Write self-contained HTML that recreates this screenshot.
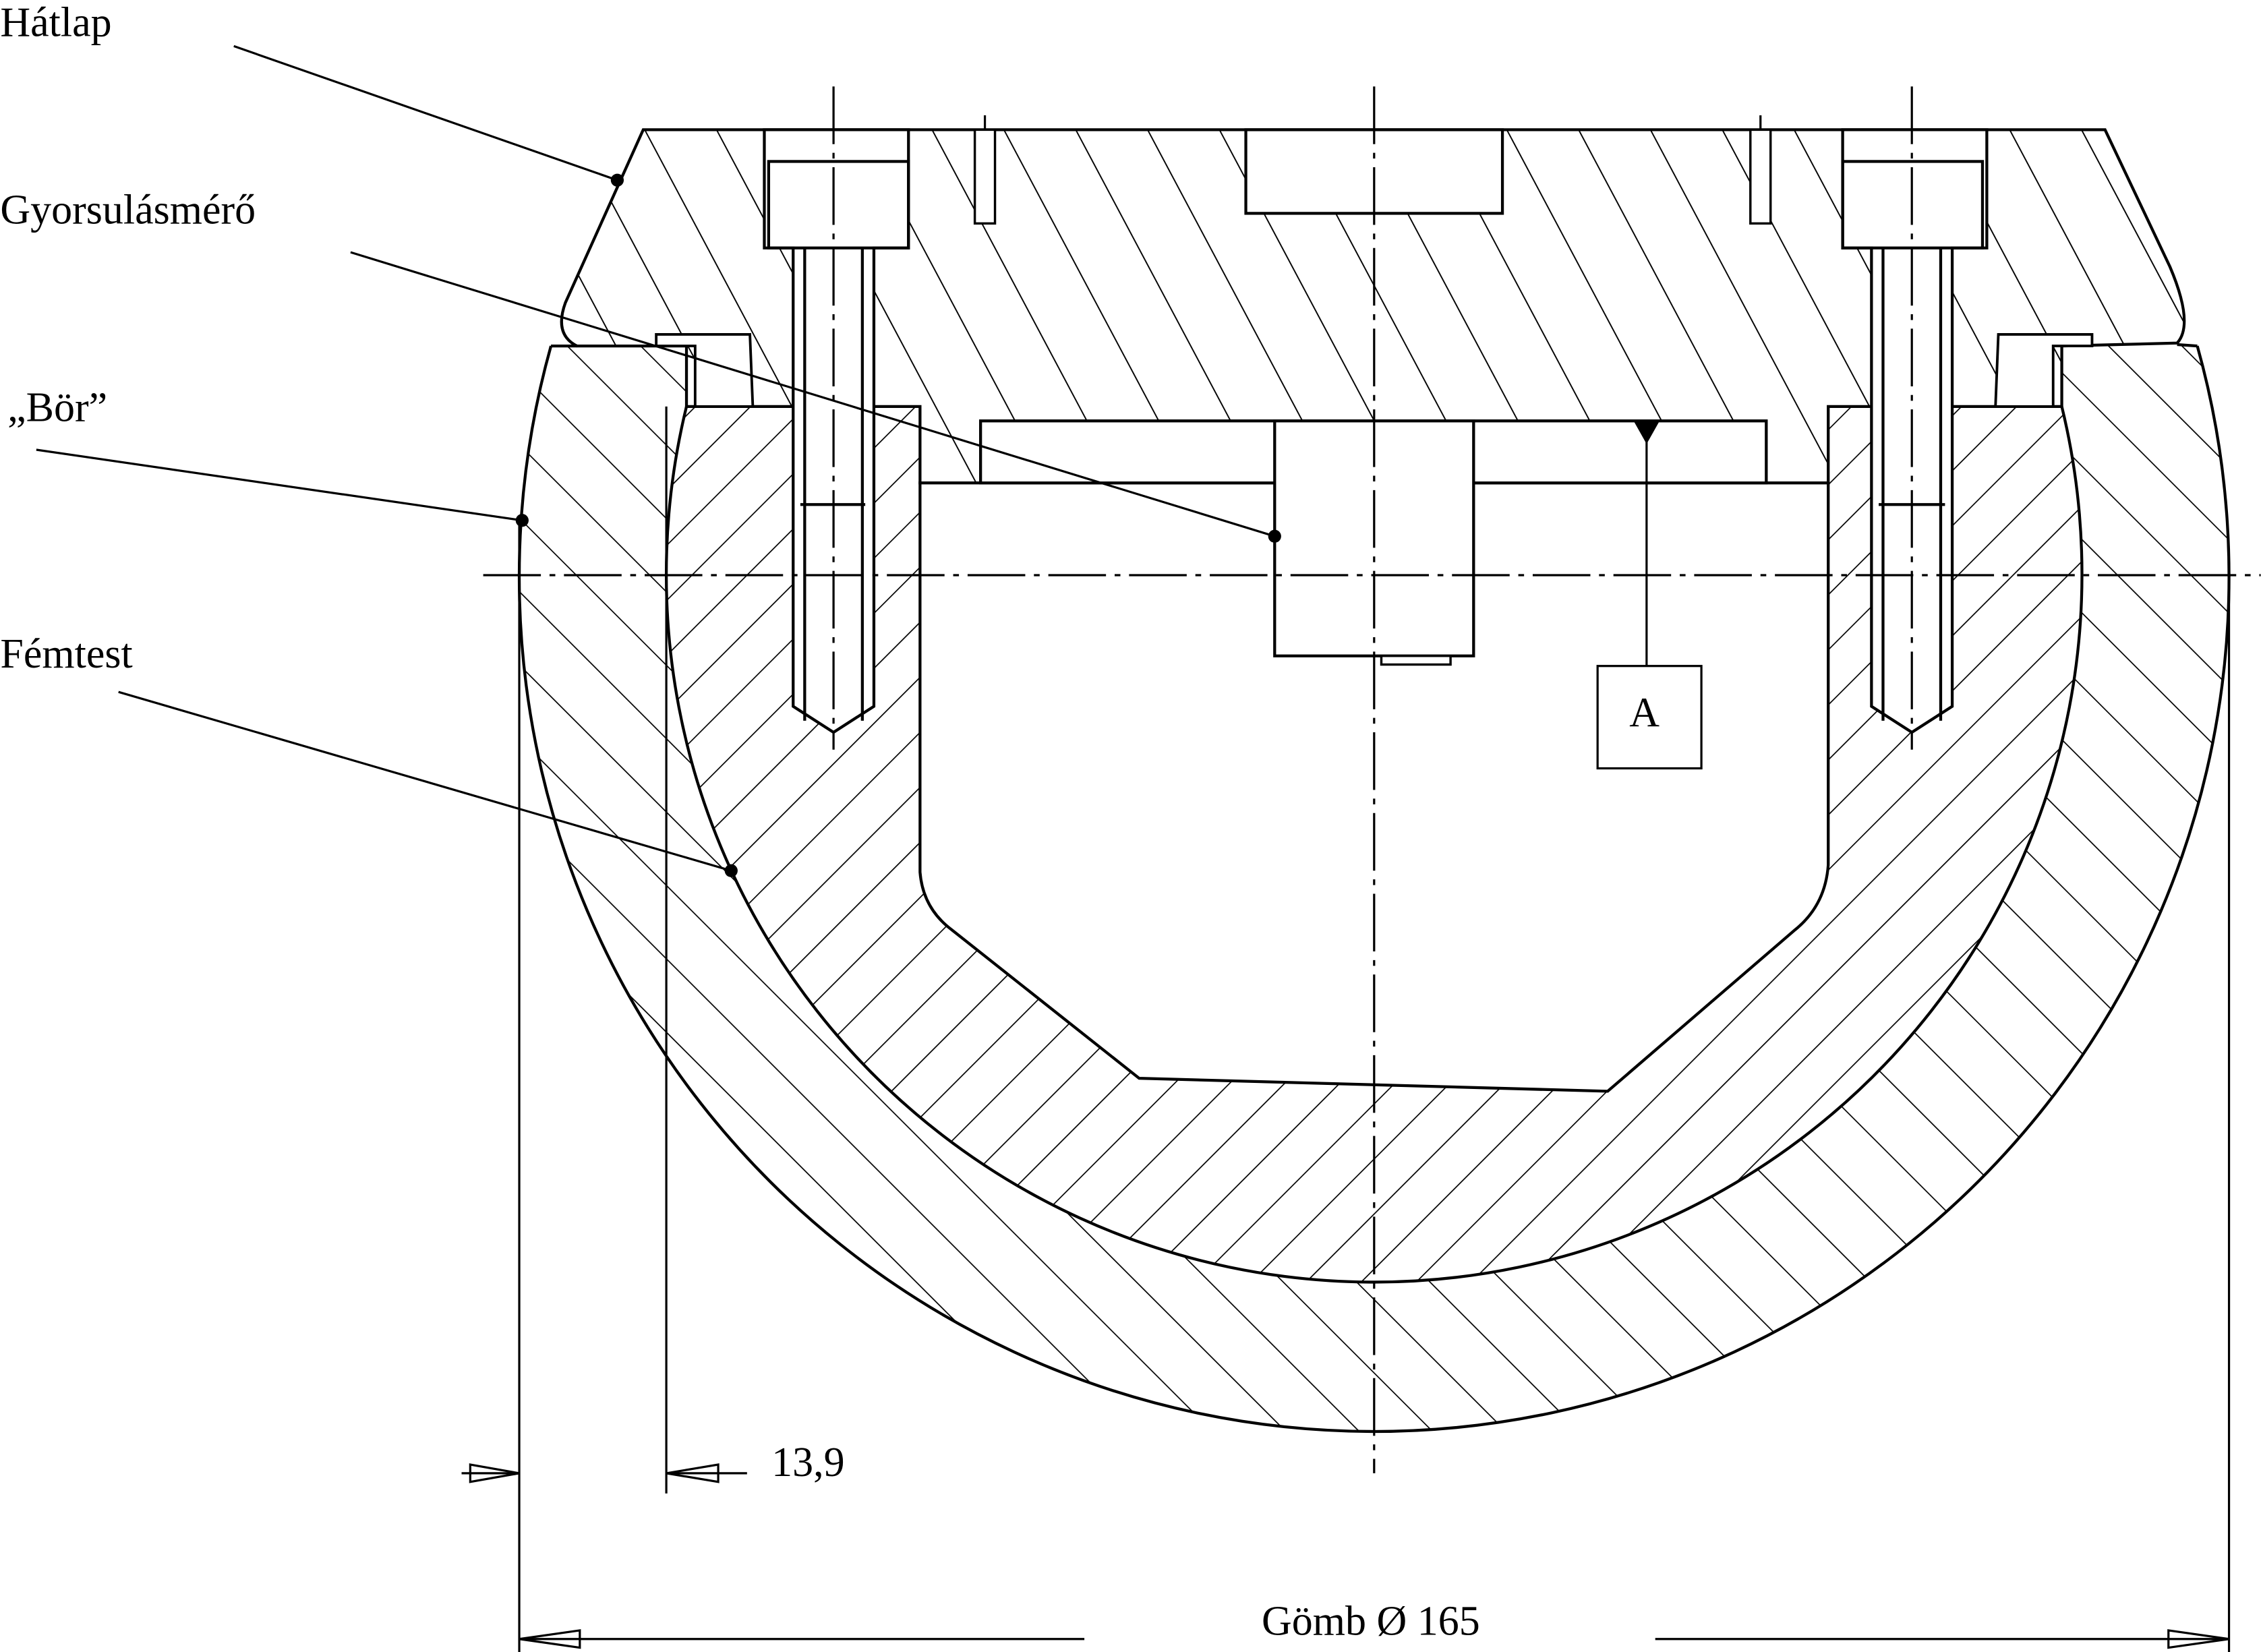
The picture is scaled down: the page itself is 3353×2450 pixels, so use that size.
<!DOCTYPE html>
<html><head><meta charset="utf-8"><style>
html,body{margin:0;padding:0;background:#fff;}
svg{display:block;}
text{font-family:"Liberation Serif",serif;fill:#000;}
</style></head><body>
<svg width="3353" height="2450" viewBox="0 0 1568 1146" xmlns="http://www.w3.org/2000/svg">
<defs>
<pattern id="hA" patternUnits="userSpaceOnUse" width="44" height="44" patternTransform="rotate(-28)">
<line x1="0" y1="0" x2="0" y2="44" stroke="#000" stroke-width="1.8"/></pattern>
<pattern id="hM" patternUnits="userSpaceOnUse" width="27" height="27" patternTransform="rotate(45)">
<line x1="0" y1="0" x2="0" y2="27" stroke="#000" stroke-width="1.6"/></pattern>
<pattern id="hS" patternUnits="userSpaceOnUse" width="36" height="36" patternTransform="rotate(-45)">
<line x1="0" y1="0" x2="0" y2="36" stroke="#000" stroke-width="1.6"/></pattern>
</defs>
<g fill="none" stroke="#000" stroke-width="2">
<path d="M382,240 A593,593 0 1 0 1524,240 Z M476,282 A491,491 0 1 0 1430,282 Z" fill="url(#hS)" fill-rule="evenodd" stroke="none"/>
<path d="M382,240 A593,593 0 1 0 1524,240"/>
<path d="M476,282 A491,491 0 1 0 1430,282 Z M638,335 L638,605 Q640,630 660,645 L790,748 L1115,757 L1245,645 Q1266,628 1268,600 L1268,335 Z" fill="url(#hM)" fill-rule="evenodd" stroke="none"/>
<path d="M476,282 A491,491 0 1 0 1430,282"/>
<!-- top plate: white under then hatch -->
<path id="tp" d="M446,90 L1460,90 L1505,185 Q1522,225 1510,238 L1430,240 L1430,282 L1268,282 L1268,335 L1225,335 L1225,292 L680,292 L680,335 L638,335 L638,282 L476,282 L476,240 L400,240 Q384,232 392,210 Z" fill="#fff" stroke="none"/>
<path d="M446,90 L1460,90 L1505,185 Q1522,225 1510,238 L1430,240 L1430,282 L1268,282 L1268,335 L1225,335 L1225,292 L680,292 L680,335 L638,335 L638,282 L476,282 L476,240 L400,240 Q384,232 392,210 Z" fill="url(#hA)"/>
<line x1="382" y1="240" x2="400" y2="240"/><line x1="1510" y1="239" x2="1524" y2="240"/>
<path d="M638,335 L638,605 Q640,630 660,645 L790,748 L1115,757 L1245,645 Q1266,628 1268,600 L1268,335 Z" fill="#fff"/>
<rect x="680" y="292" width="545" height="43" fill="#fff"/>
<rect x="884" y="292" width="138" height="163" fill="#fff"/>
<rect x="958" y="455" width="48" height="6" fill="#fff" stroke-width="1.6"/>
<rect x="864" y="90" width="178" height="58" fill="#fff"/>
<rect x="676" y="90" width="14" height="65" fill="#fff" stroke-width="1.6"/>
<rect x="1214" y="90" width="14" height="65" fill="#fff" stroke-width="1.6"/>
<path d="M455,240 L455,232 L520,232 L522,282 L482,282 L482,240 Z" fill="#fff" stroke-width="1.8"/>
<path d="M1451,240 L1451,232 L1386,232 L1384,282 L1424,282 L1424,240 Z" fill="#fff" stroke-width="1.8"/>
<path d="M530,90 L630,90 L630,172 L606,172 L606,490 L578,508 L550,490 L550,172 L530,172 Z" fill="#fff"/>
<rect x="533" y="112" width="97" height="60" fill="none"/>
<line x1="558" y1="172" x2="558" y2="500"/><line x1="598" y1="172" x2="598" y2="500"/>
<line x1="555" y1="350" x2="600" y2="350"/>
<path d="M1278,90 L1378,90 L1378,172 L1354,172 L1354,490 L1326,508 L1298,490 L1298,172 L1278,172 Z" fill="#fff"/>
<rect x="1278" y="112" width="97" height="60" fill="none"/>
<line x1="1306" y1="172" x2="1306" y2="500"/><line x1="1346" y1="172" x2="1346" y2="500"/>
<line x1="1303" y1="350" x2="1349" y2="350"/>
</g>
<g stroke="#000" stroke-width="1.5" fill="none">
<line x1="953" y1="60" x2="953" y2="1022" stroke-dasharray="40,6,4,6"/>
<line x1="335" y1="399" x2="1568" y2="399" stroke-dasharray="40,6,4,6"/>
<line x1="578" y1="60" x2="578" y2="520" stroke-dasharray="40,6,4,6"/>
<line x1="1326" y1="60" x2="1326" y2="520" stroke-dasharray="40,6,4,6"/>
<line x1="683" y1="80" x2="683" y2="90"/><line x1="1221" y1="80" x2="1221" y2="90"/>
<line x1="1142" y1="300" x2="1142" y2="462"/>
<rect x="1108" y="462" width="72" height="71" fill="#fff"/>
<line x1="360" y1="360" x2="360" y2="1146"/>
<line x1="462" y1="282" x2="462" y2="1036"/>
<line x1="1546" y1="399" x2="1546" y2="1146"/>
<line x1="320" y1="1022" x2="360" y2="1022"/>
<path d="M360,1022 L326,1016 L326,1028 Z"/>
<line x1="462" y1="1022" x2="518" y2="1022"/>
<path d="M462,1022 L498,1016 L498,1028 Z"/>
<line x1="360" y1="1137" x2="752" y2="1137"/>
<line x1="1148" y1="1137" x2="1546" y2="1137"/>
<path d="M360,1137 L402,1131 L402,1143 Z"/>
<path d="M1546,1137 L1504,1131 L1504,1143 Z"/>
<line x1="162" y1="32" x2="428" y2="125"/>
<line x1="243" y1="175" x2="884" y2="372"/>
<line x1="25" y1="312" x2="362" y2="361"/>
<line x1="82" y1="480" x2="507" y2="604"/>
</g>
<path d="M1133,292 L1151,292 L1142,308 Z" fill="#000"/>
<g fill="#000"><circle cx="428" cy="125" r="4.5"/><circle cx="884" cy="372" r="4.5"/><circle cx="362" cy="361" r="4.5"/><circle cx="507" cy="604" r="4.5"/></g>
<g font-size="29">
<text x="0" y="25">Hátlap</text>
<text x="0" y="155">Gyorsulásmérő</text>
<text x="5" y="292">„Bör”</text>
<text x="0" y="463">Fémtest</text>
<text x="1130" y="504">A</text>
<text x="535" y="1024">13,9</text>
<text x="875" y="1134">Gömb Ø 165</text>
</g>
</svg>
</body></html>
